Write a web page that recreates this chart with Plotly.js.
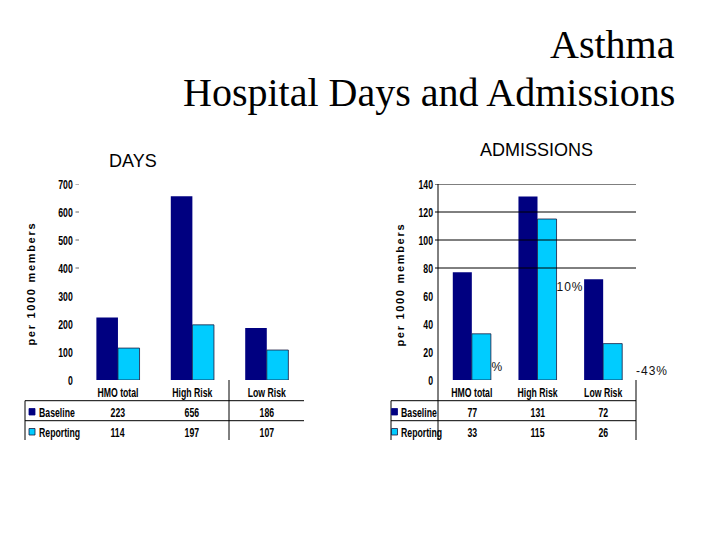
<!DOCTYPE html>
<html><head><meta charset="utf-8">
<script src="https://cdn.plot.ly/plotly-3.0.1.min.js"></script>
<style>html,body{margin:0;padding:0;background:#fff;}#chart{width:720px;height:540px;}</style>
</head><body><div id="chart"></div>
<script>
// ---- data ----
var categories = ['HMO total', 'High Risk', 'Low Risk'];
var seriesNames = ['Baseline', 'Reporting'];
var daysBaseline = [223, 656, 186];
var daysReporting = [114, 197, 107];
var admBaseline = [77, 131, 72];
var admReporting = [33, 115, 26];
var daysTicks = [0, 100, 200, 300, 400, 500, 600, 700];
var daysDashTicks = [400, 500, 600, 700];
var admTicks = [0, 20, 40, 60, 80, 100, 120, 140];
var admGridTicks = [80, 100, 120, 140];
var pctLabels = ['%', '10%', '-43%'];

// ---- helpers (pixel -> paper) ----
var W = 720, H = 540;
function px(x) { return x / W; }
function py(y) { return 1 - y / H; }

var navy = '#000080', cyan = '#00CCFF';
var sans = 'Liberation Sans, Arial, sans-serif';
var tickFont = {family: sans, size: 13, color: '#000', weight: 'bold'};
var tblFont = {family: sans, size: 13, color: '#000', weight: 'bold'};
var NARROW = 0.67;

var traces = [
  {type: 'bar', x: categories, y: daysBaseline, name: seriesNames[0], marker: {color: navy}, xaxis: 'x', yaxis: 'y', hoverinfo: 'none'},
  {type: 'bar', x: categories, y: daysReporting, name: seriesNames[1], marker: {color: cyan, line: {color: '#1a1a40', width: 0.8}}, xaxis: 'x', yaxis: 'y', hoverinfo: 'none'},
  {type: 'bar', x: categories, y: admBaseline, name: seriesNames[0], marker: {color: navy}, xaxis: 'x2', yaxis: 'y2', hoverinfo: 'none'},
  {type: 'bar', x: categories, y: admReporting, name: seriesNames[1], marker: {color: cyan, line: {color: '#1a1a40', width: 0.8}}, xaxis: 'x2', yaxis: 'y2', hoverinfo: 'none'}
];

var yDom = [py(380), py(184)];
var layout = {
  width: W, height: H,
  margin: {l: 0, r: 0, t: 0, b: 0},
  paper_bgcolor: '#fff', plot_bgcolor: 'rgba(0,0,0,0)',
  showlegend: false,
  barmode: 'group', bargap: 0.42, bargroupgap: 0,
  xaxis: {domain: [px(80.75), px(304)], showline: false, showgrid: false, zeroline: false, ticks: '',
          tickfont: tblFont, ticklabelstandoff: 3, fixedrange: true},
  yaxis: {domain: yDom, range: [0, 700], tickvals: daysTicks, showgrid: false, zeroline: false, showline: false,
          ticks: '', tickfont: tickFont, ticklabelstandoff: 7, fixedrange: true},
  xaxis2: {domain: [px(439), px(636)], anchor: 'y2', showline: false, showgrid: false, zeroline: false, ticks: '',
           tickfont: tblFont, ticklabelstandoff: 3, fixedrange: true},
  yaxis2: {domain: yDom, anchor: 'x2', range: [0, 140], tickvals: admTicks, showgrid: false, zeroline: false, showline: false,
           ticks: '', tickfont: tickFont, ticklabelstandoff: 5, fixedrange: true},
  shapes: [], annotations: []
};

var S = layout.shapes, A = layout.annotations;
var condenseIdx = [], leftIdx = [], spacedIdx = [], pctIdx = [];
function pline(x0, y0, x1, y1, w, c) {
  S.push({type: 'line', xref: 'paper', yref: 'paper', x0: px(x0), y0: py(y0), x1: px(x1), y1: py(y1),
          line: {color: c || '#000', width: w || 1}});
}

// left tick dashes
daysDashTicks.forEach(function (v) {
  S.push({type: 'line', xref: 'paper', yref: 'y', x0: px(75.5), x1: px(79), y0: v, y1: v, line: {color: '#666', width: 1}});
});
// right gridlines
admGridTicks.forEach(function (v) {
  S.push({type: 'line', xref: 'paper', yref: 'y2', x0: px(435), x1: px(636), y0: v, y1: v, line: {color: '#000', width: 1}});
});
// right axis line
pline(438, 184, 438, 440);

// left table lines
pline(25, 400.7, 304, 400.7);
pline(25, 420.7, 304, 420.7);
pline(25, 400.7, 25, 440);
pline(229, 380, 229, 440);
// right table lines
pline(391, 400.7, 636, 400.7);
pline(391, 420.7, 636, 420.7);
pline(391, 400.7, 391, 440);
pline(636, 380, 636, 440);

// titles
var serif = 'Liberation Serif, Times New Roman, serif';
A.push({xref: 'paper', yref: 'paper', x: px(677), y: py(44), xanchor: 'right', yanchor: 'middle', showarrow: false,
        text: 'Asthma', font: {family: serif, size: 40, color: '#000'}});
A.push({xref: 'paper', yref: 'paper', x: px(677), y: py(92), xanchor: 'right', yanchor: 'middle', showarrow: false,
        text: 'Hospital Days and Admissions', font: {family: serif, size: 40, color: '#000'}});
A.push({xref: 'paper', yref: 'paper', x: px(132.5), y: py(161), xanchor: 'center', yanchor: 'middle', showarrow: false,
        text: 'DAYS', font: {family: sans, size: 18, color: '#000'}});
A.push({xref: 'paper', yref: 'paper', x: px(536), y: py(150), xanchor: 'center', yanchor: 'middle', showarrow: false,
        text: 'ADMISSIONS', font: {family: sans, size: 18, color: '#000'}});

// y-axis titles
spacedIdx.push(A.length);
A.push({xref: 'paper', yref: 'paper', x: px(31), y: py(284), textangle: -90, showarrow: false, xanchor: 'center', yanchor: 'middle',
        text: 'per 1000 members', font: {family: sans, size: 11, color: '#000', weight: 'bold'}});
spacedIdx.push(A.length);
A.push({xref: 'paper', yref: 'paper', x: px(400), y: py(285), textangle: -90, showarrow: false, xanchor: 'center', yanchor: 'middle',
        text: 'per 1000 members', font: {family: sans, size: 11, color: '#000', weight: 'bold'}});

// table rows
var rowY = [412, 432];
var rowColors = [navy, cyan];
var rowEdge = ['#000080', '#1a1a40'];
function addTable(xr, sqX, vals) {
  for (var r = 0; r < 2; r++) {
    S.push({type: 'rect', xref: 'paper', yref: 'paper', x0: px(sqX), x1: px(sqX + 6), y0: py(rowY[r] - 3.5), y1: py(rowY[r] + 3),
            fillcolor: rowColors[r], line: {color: rowEdge[r], width: 0.8}});
    condenseIdx.push(A.length);
    leftIdx.push(A.length);
    A.push({xref: 'paper', yref: 'paper', x: px(sqX + 7.5), y: py(rowY[r]), xanchor: 'left', yanchor: 'middle', showarrow: false,
            text: seriesNames[r], font: tblFont});
    for (var i = 0; i < categories.length; i++) {
      condenseIdx.push(A.length);
      A.push({xref: xr, yref: 'paper', x: categories[i], y: py(rowY[r]), xanchor: 'center', yanchor: 'middle', showarrow: false,
              text: String(vals[r][i]), font: tblFont});
    }
  }
}
addTable('x', 29, [daysBaseline, daysReporting]);
addTable('x2', 391.5, [admBaseline, admReporting]);

// percentage labels (partly hidden in the original)
var pctFont = {family: sans, size: 12, color: '#111'};
pctIdx.push(A.length);
A.push({xref: 'paper', yref: 'paper', x: px(490), y: py(367), xanchor: 'left', yanchor: 'middle', showarrow: false, text: pctLabels[0], font: pctFont});
pctIdx.push(A.length);
A.push({xref: 'paper', yref: 'paper', x: px(556), y: py(287), xanchor: 'left', yanchor: 'middle', showarrow: false, text: pctLabels[1], font: pctFont});
pctIdx.push(A.length);
A.push({xref: 'paper', yref: 'paper', x: px(636), y: py(371), xanchor: 'left', yanchor: 'middle', showarrow: false, text: pctLabels[2], font: pctFont});

function squeeze(t, s, useLeft) {
  var ax = parseFloat(t.getAttribute('x')) || 0;
  if (useLeft) { try { ax = t.getBBox().x; } catch (e) {} }
  var tr = t.getAttribute('transform') || '';
  t.setAttribute('transform', tr + ' translate(' + ax + ',0) scale(' + s + ',1) translate(' + (-ax) + ',0)');
}

Plotly.newPlot('chart', traces, layout, {staticPlot: true, displayModeBar: false}).then(function (gd) {
  gd.querySelectorAll('.xtick text, .ytick text, .x2tick text, .y2tick text').forEach(function (t) { squeeze(t, NARROW, false); });
  var anns = gd.querySelectorAll('.annotation');
  anns.forEach(function (g) {
    var idx = parseInt(g.getAttribute('data-index'), 10);
    var t = g.querySelector('text.annotation-text');
    if (!t) return;
    if (condenseIdx.indexOf(idx) >= 0) squeeze(t, NARROW, leftIdx.indexOf(idx) >= 0);
    if (spacedIdx.indexOf(idx) >= 0) t.setAttribute('letter-spacing', '1.7');
    if (pctIdx.indexOf(idx) >= 0) t.setAttribute('letter-spacing', '1');
  });
});
</script></body></html>
